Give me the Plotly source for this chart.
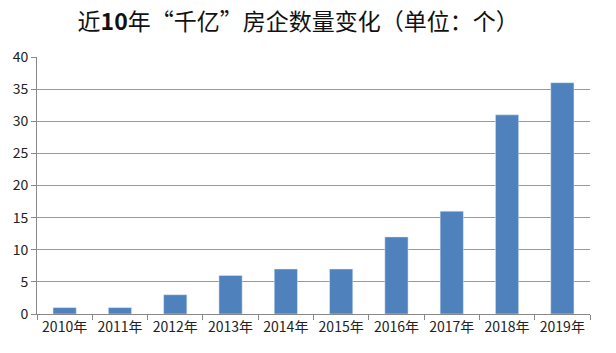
import plotly.graph_objects as go

years = ["2010年", "2011年", "2012年", "2013年", "2014年", "2015年", "2016年", "2017年", "2018年", "2019年"]
counts = [1, 1, 3, 6, 7, 7, 12, 16, 31, 36]
y_ticks = [0, 5, 10, 15, 20, 25, 30, 35, 40]

fig = go.Figure(go.Bar(x=years, y=counts, marker_color="#4F81BD", width=0.42))

fig.update_layout(
    width=616, height=353,
    margin=dict(l=37, r=26, t=57, b=39),
    paper_bgcolor="white", plot_bgcolor="white",
    font=dict(family="Noto Sans CJK SC, sans-serif", size=13, color="#222"),
    title=dict(text="近<b>10</b>年“千亿”房企数量变化（单位：个）", x=0.484, xanchor="center",
               y=0.937, yanchor="middle", font=dict(size=23, color="#111")),
    showlegend=False,
)
fig.update_xaxes(showline=True, linecolor="#888", linewidth=1, ticks="outside",
                 tickson="boundaries", ticklen=5, tickcolor="#888", showgrid=False,
                 tickfont=dict(size=14))
fig.update_yaxes(range=[0, 40], tickvals=y_ticks, showline=True, linecolor="#888",
                 linewidth=1, ticks="outside", ticklen=5, tickcolor="#888",
                 showgrid=True, gridcolor="#999", gridwidth=1, zeroline=False,
                 tickfont=dict(size=14))

fig.write_html("out.html")
